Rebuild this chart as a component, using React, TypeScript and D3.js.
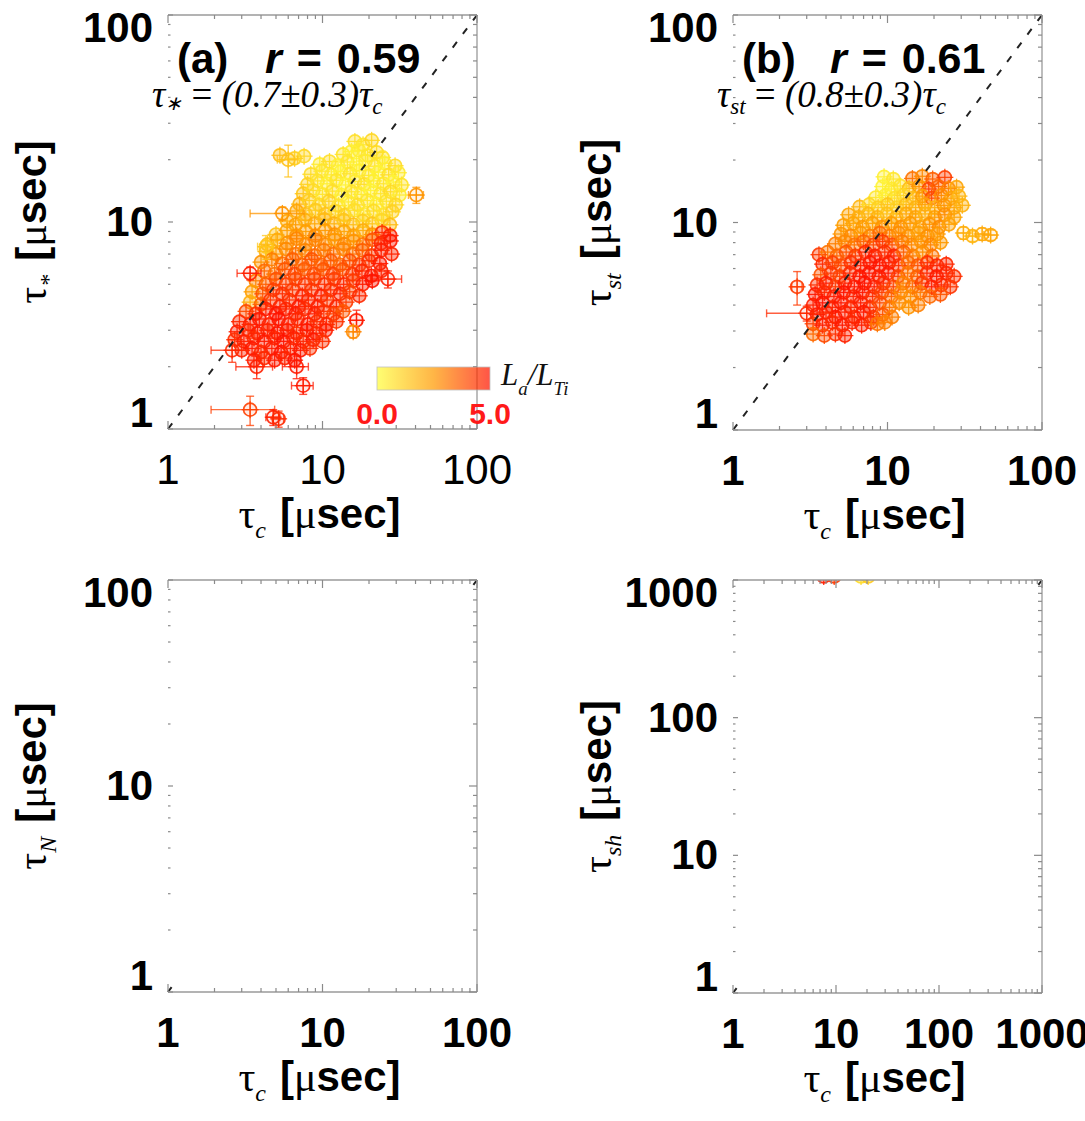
import React from 'react';
import * as d3 from 'd3';

const W = 1085;
const H = 1121;
const SANS = '"Liberation Sans", Arial, Helvetica, sans-serif';
const SERIF = '"Liberation Serif", "Times New Roman", serif';

// ---------- tick values / labels ----------
const ticks2 = [1, 10, 100];
const ticks3 = [1, 10, 100, 1000];

// ---------- colour bar ----------
const colorDomain = [0, 2.5, 5];
const colorRange = ['#ffff3c', '#ff9a00', '#ff1400'];
const colorbarLabels = ['0.0', '5.0'];

// ---------- annotations ----------
const panelLetters = ['(a)', '(b)'];
const rValues = ['0.59', '0.61'];
const fitCoeffs = ['(0.7±0.3)', '(0.8±0.3)'];
const fitSubs = ['∗', 'st'];
const yTitleSubs = ['*', 'st', 'N', 'sh'];

// ---------- panel (a): [tau_c, tau_*, La/LTi] ----------
const panelA: number[][] = [
  [16.2, 24.5, 0.8], [18.3, 23.6, 0.6], [20.8, 24.8, 1.0], [17.2, 22.2, 0.5],
  [13.6, 21.2, 0.7], [15.4, 21.9, 0.4], [19.6, 21.0, 0.6], [22.4, 21.7, 0.9], [24.5, 20.5, 0.7],
  [5.3, 21.0, 1.6], [6.6, 20.3, 1.2], [7.6, 20.8, 1.0],
  [9.6, 19.0, 0.5], [11.1, 19.6, 0.8], [12.6, 18.8, 0.4], [14.5, 19.5, 0.6], [16.6, 18.9, 0.3], [19.0, 19.7, 0.5], [21.8, 18.6, 0.7], [25.3, 19.2, 0.4], [29.5, 18.7, 0.9],
  [8.4, 17.0, 0.9], [9.9, 17.6, 0.6], [11.4, 16.9, 0.5], [13.1, 17.5, 0.3], [15.1, 17.1, 0.7], [17.3, 17.7, 0.4], [19.9, 16.8, 0.6], [23.0, 17.4, 0.3], [26.8, 16.9, 0.8], [31.0, 17.3, 0.5],
  [8.0, 15.2, 1.1], [9.3, 15.8, 0.7], [10.7, 15.3, 0.4], [12.3, 15.9, 0.6], [14.1, 15.1, 0.3], [16.2, 15.7, 0.5], [18.6, 15.2, 0.8], [21.4, 15.8, 0.4], [24.8, 15.3, 0.6], [28.7, 15.6, 0.3], [32.5, 15.1, 0.7],
  [7.5, 13.7, 1.4], [8.7, 14.2, 0.9], [10.0, 13.6, 0.6], [11.6, 14.1, 0.8], [13.3, 13.5, 0.4], [15.4, 14.0, 0.7], [17.8, 13.6, 0.5], [20.5, 14.2, 0.3], [23.8, 13.7, 0.6], [27.6, 14.0, 0.9], [31.5, 13.5, 0.5],
  [7.1, 12.2, 1.8], [8.2, 12.7, 1.2], [9.5, 12.1, 0.9], [11.0, 12.6, 1.1], [12.7, 12.0, 0.7], [14.7, 12.5, 0.5], [16.9, 12.1, 0.8], [19.5, 12.7, 0.6], [22.4, 12.2, 0.4], [25.9, 12.6, 0.7], [29.8, 12.1, 1.0],
  [6.8, 11.3, 2.2], [7.8, 10.9, 1.6], [9.0, 11.4, 1.3], [10.4, 10.9, 1.5], [12.1, 11.3, 1.0], [13.9, 10.8, 1.2], [16.1, 11.4, 0.8], [18.5, 10.9, 0.6], [21.4, 11.3, 0.9], [24.8, 10.8, 0.7], [28.3, 11.2, 1.1],
  [5.9, 10.1, 2.0], [6.7, 9.7, 2.4], [7.7, 10.2, 1.9], [8.9, 9.8, 2.1], [10.3, 10.3, 1.7], [11.9, 9.8, 1.9], [13.7, 10.2, 1.4], [15.8, 9.7, 1.6], [18.2, 10.1, 1.2], [21.0, 9.8, 1.4], [24.2, 10.2, 1.0], [27.3, 9.7, 1.6],
  [5.0, 8.7, 1.5], [5.9, 9.1, 2.3], [6.8, 8.6, 2.6], [7.8, 9.0, 2.4], [9.0, 8.6, 2.8], [10.4, 9.1, 2.5], [12.0, 8.7, 2.7], [13.8, 9.0, 2.2], [15.9, 8.6, 2.4], [18.3, 9.1, 2.0], [21.0, 8.7, 2.6], [24.3, 8.9, 4.5], [27.4, 8.6, 4.8],
  [4.4, 7.8, 1.6], [5.1, 8.2, 2.1], [5.9, 7.9, 2.6], [6.8, 8.3, 2.9], [7.8, 7.8, 2.7], [9.0, 8.2, 3.0], [10.4, 7.8, 2.8], [12.0, 8.2, 2.5], [13.8, 7.8, 2.9], [15.9, 8.1, 2.6], [18.3, 7.8, 3.1], [21.0, 8.2, 3.8], [23.9, 7.9, 4.6], [27.5, 8.1, 4.9],
  [4.3, 7.2, 1.8], [5.0, 7.0, 2.4], [5.8, 7.4, 2.8], [6.7, 7.0, 3.2], [7.7, 7.3, 2.9], [8.9, 6.9, 3.4], [10.2, 7.3, 3.1], [11.8, 7.0, 3.3], [13.6, 7.4, 2.9], [15.7, 7.0, 3.2], [18.1, 7.3, 3.6], [20.8, 6.9, 4.2], [24.0, 7.3, 4.8], [28.0, 7.0, 4.7],
  [4.0, 6.4, 2.6], [4.7, 6.6, 3.0], [5.5, 6.3, 3.3], [6.4, 6.6, 3.6], [7.4, 6.2, 3.4], [8.5, 6.6, 3.8], [9.8, 6.2, 3.5], [11.3, 6.5, 3.7], [13.0, 6.2, 3.4], [15.0, 6.5, 3.9], [17.3, 6.2, 4.1], [20.0, 6.5, 4.5], [23.5, 6.3, 4.9],
  [4.2, 5.8, 3.4], [4.9, 5.6, 3.2], [5.7, 5.9, 3.8], [6.6, 5.6, 4.1], [7.6, 5.9, 3.7], [8.8, 5.6, 4.0], [10.1, 5.9, 3.8], [11.7, 5.6, 4.2], [13.5, 5.9, 3.9], [15.6, 5.6, 4.3], [18.0, 5.8, 4.6], [20.7, 5.5, 4.9], [24.0, 5.8, 4.7],
  [3.7, 5.2, 3.0], [4.3, 5.0, 3.6], [5.0, 5.3, 3.9], [5.8, 5.0, 4.2], [6.7, 5.3, 4.0], [7.7, 5.0, 4.4], [8.9, 5.3, 4.1], [10.3, 5.0, 4.5], [11.9, 5.3, 4.2], [13.7, 5.0, 4.6], [15.8, 5.2, 4.3], [18.2, 5.0, 4.8], [21.0, 5.2, 5.0],
  [3.5, 4.6, 2.4], [4.1, 4.5, 3.8], [4.8, 4.7, 4.2], [5.5, 4.5, 4.5], [6.4, 4.7, 4.3], [7.4, 4.4, 4.7], [8.5, 4.7, 4.4], [9.8, 4.4, 4.8], [11.3, 4.7, 4.5], [13.0, 4.5, 4.7], [15.0, 4.6, 4.2], [17.3, 4.4, 4.6],
  [3.4, 4.1, 2.0], [4.0, 4.0, 3.5], [4.6, 4.2, 4.4], [5.3, 3.9, 4.7], [6.1, 4.2, 4.5], [7.0, 3.9, 4.9], [8.1, 4.2, 4.6], [9.3, 3.9, 4.8], [10.7, 4.2, 4.4], [12.3, 3.9, 4.7], [14.2, 4.1, 4.3],
  [3.2, 3.7, 4.0], [3.7, 3.6, 4.5], [4.3, 3.8, 4.8], [5.0, 3.6, 5.0], [5.8, 3.8, 4.7], [6.7, 3.6, 4.9], [7.7, 3.8, 4.6], [8.9, 3.6, 4.8], [10.2, 3.7, 4.5], [11.8, 3.6, 4.2], [13.6, 3.7, 3.8],
  [2.9, 3.3, 4.6], [3.4, 3.2, 4.8], [3.9, 3.4, 4.9], [4.5, 3.2, 4.7], [5.2, 3.4, 5.0], [6.0, 3.2, 4.8], [6.9, 3.4, 4.6], [8.0, 3.2, 4.9], [9.2, 3.3, 4.5], [10.6, 3.2, 4.7], [12.3, 3.3, 4.4],
  [2.8, 2.95, 4.8], [3.3, 3.0, 4.6], [3.8, 2.9, 4.9], [4.4, 3.0, 4.7], [5.1, 2.9, 5.0], [5.9, 3.0, 4.8], [6.8, 2.9, 4.5], [7.9, 3.0, 4.9], [9.1, 2.9, 4.6], [10.5, 3.0, 4.8],
  [2.7, 2.7, 4.5], [3.1, 2.65, 4.8], [3.6, 2.75, 4.6], [4.2, 2.65, 4.9], [4.9, 2.75, 4.7], [5.6, 2.65, 5.0], [6.5, 2.75, 4.8], [7.5, 2.65, 4.6], [8.7, 2.7, 4.9], [10.0, 2.65, 4.5],
  [3.0, 2.4, 4.7], [3.5, 2.45, 4.9], [4.0, 2.35, 4.6], [4.7, 2.45, 4.8], [5.4, 2.35, 5.0], [6.2, 2.45, 4.7], [7.2, 2.4, 4.9], [8.3, 2.45, 4.5],
  [3.6, 2.15, 4.8], [4.2, 2.2, 4.6], [4.9, 2.15, 4.9], [5.7, 2.2, 4.7], [6.6, 2.15, 5.0],
];

// panel (a) points with visible error bars: [tau_c, tau_*, La/LTi, d tau_c, d tau_*]
const panelAErr: number[][] = [
  [6.0, 20.0, 1.5, 0.9, 3.5],
  [5.5, 11.0, 2.6, 2.1, 0.8],
  [4.3, 7.6, 1.4, 0.5, 1.0],
  [3.4, 5.65, 4.8, 0.6, 0.4],
  [40.5, 13.5, 2.6, 4.5, 1.2],
  [26.5, 5.3, 4.8, 6.0, 0.5],
  [16.6, 3.35, 4.9, 1.5, 0.4],
  [15.8, 2.95, 2.8, 1.0, 0.2],
  [2.6, 2.4, 4.6, 0.7, 0.3],
  [3.75, 2.0, 4.8, 1.0, 0.25],
  [6.8, 2.0, 4.9, 1.3, 0.25],
  [7.5, 1.62, 4.9, 1.2, 0.15],
  [3.4, 1.24, 4.2, 1.5, 0.2],
  [4.8, 1.14, 4.8, 0.5, 0.1],
  [5.2, 1.12, 4.6, 0.4, 0.1],
];

// ---------- panel (b): [tau_c, tau_st, La/LTi] ----------
const panelB: number[][] = [
  [9.5, 16.6, 0.4], [10.9, 16.2, 0.6], [14.5, 16.3, 3.2], [16.8, 16.7, 2.8], [19.6, 16.2, 3.6], [23.5, 16.5, 4.2],
  [9.3, 14.9, 0.3], [10.6, 14.5, 0.5], [12.1, 15.0, 0.7], [13.8, 14.6, 1.6], [16.0, 14.9, 2.6], [18.5, 14.5, 4.2], [21.4, 14.9, 3.5], [24.8, 14.6, 3.0], [28.0, 14.8, 2.2],
  [8.4, 13.2, 0.6], [9.7, 13.5, 0.4], [11.1, 13.1, 0.8], [12.7, 13.5, 1.0], [14.6, 13.1, 1.7], [16.8, 13.4, 2.4], [19.3, 13.1, 4.0], [22.3, 13.5, 2.8], [25.8, 13.1, 2.3], [29.0, 13.4, 1.8],
  [6.6, 11.9, 1.8], [7.6, 12.2, 1.0], [8.7, 11.8, 1.2], [10.0, 12.2, 1.4], [11.5, 11.8, 1.1], [13.2, 12.2, 1.6], [15.2, 11.8, 1.9], [17.5, 12.2, 2.3], [20.2, 11.8, 2.0], [23.2, 12.1, 2.6], [27.0, 11.8, 2.2], [30.5, 12.1, 1.9],
  [5.6, 10.9, 2.2], [6.5, 10.6, 2.0], [7.5, 11.0, 1.7], [8.6, 10.6, 1.9], [9.9, 11.0, 1.5], [11.4, 10.6, 1.8], [13.2, 11.0, 2.1], [15.2, 10.6, 2.3], [17.5, 11.0, 1.9], [20.2, 10.6, 2.4], [23.5, 10.9, 2.7], [27.0, 10.6, 2.2],
  [5.2, 9.7, 2.4], [6.0, 9.9, 2.2], [6.9, 9.5, 2.5], [8.0, 9.9, 2.3], [9.2, 9.5, 2.6], [10.6, 9.9, 2.4], [12.2, 9.5, 2.7], [14.0, 9.9, 2.5], [16.2, 9.5, 2.3], [18.7, 9.8, 2.6], [21.6, 9.5, 2.8], [25.0, 9.8, 2.3],
  [5.0, 8.8, 2.6], [5.8, 8.6, 2.8], [6.7, 8.9, 2.5], [7.7, 8.6, 2.9], [8.9, 8.9, 3.4], [10.3, 8.6, 3.0], [11.8, 8.9, 2.7], [13.6, 8.6, 2.6], [15.8, 8.9, 2.4], [18.2, 8.6, 2.7], [21.0, 8.8, 2.5],
  [4.6, 7.9, 3.0], [5.3, 8.1, 2.8], [6.1, 7.8, 3.2], [7.0, 8.1, 3.5], [8.1, 7.8, 4.0], [9.3, 8.1, 4.3], [10.7, 7.8, 3.9], [12.4, 8.1, 3.1], [14.3, 7.8, 2.8], [16.5, 8.1, 2.6], [19.0, 7.8, 2.9], [22.0, 8.0, 2.5],
  [3.6, 7.0, 4.3], [4.1, 7.2, 3.2], [4.7, 6.9, 3.4], [5.4, 7.2, 3.8], [6.2, 6.9, 4.2], [7.2, 7.2, 4.6], [8.3, 6.9, 4.8], [9.6, 7.2, 4.5], [11.0, 6.9, 4.7], [12.7, 7.2, 3.6], [14.6, 6.9, 3.0], [16.9, 7.2, 2.7], [19.5, 6.9, 3.2],
  [3.8, 6.3, 4.6], [4.4, 6.4, 4.2], [5.0, 6.2, 4.0], [5.8, 6.4, 4.4], [6.7, 6.2, 4.7], [7.7, 6.4, 4.9], [8.9, 6.2, 5.0], [10.2, 6.4, 4.8], [11.8, 6.2, 4.5], [13.6, 6.4, 3.4], [15.7, 6.2, 3.8], [18.1, 6.4, 4.5], [20.9, 6.2, 4.7], [24.0, 6.3, 4.6],
  [3.7, 5.6, 3.8], [4.3, 5.7, 4.4], [4.9, 5.5, 4.1], [5.7, 5.7, 4.6], [6.6, 5.5, 4.9], [7.6, 5.7, 5.0], [8.8, 5.5, 4.8], [10.1, 5.7, 4.9], [11.7, 5.5, 4.2], [13.5, 5.7, 3.2], [15.6, 5.5, 3.6], [18.0, 5.7, 4.6], [20.8, 5.5, 4.9], [24.0, 5.7, 4.7], [27.0, 5.5, 4.5],
  [3.5, 5.0, 4.5], [4.0, 5.1, 4.8], [4.6, 4.9, 4.3], [5.3, 5.1, 4.7], [6.1, 4.9, 4.9], [7.1, 5.1, 5.0], [8.2, 4.9, 4.8], [9.4, 5.1, 4.6], [10.9, 4.9, 4.1], [12.6, 5.1, 3.0], [14.5, 4.9, 3.4], [16.7, 5.1, 4.2], [19.3, 4.9, 4.8], [22.3, 5.0, 4.6], [25.5, 4.9, 4.4],
  [3.4, 4.5, 4.9], [3.9, 4.6, 4.6], [4.5, 4.4, 4.8], [5.2, 4.6, 5.0], [6.0, 4.4, 4.7], [6.9, 4.6, 4.9], [8.0, 4.4, 4.5], [9.2, 4.6, 4.2], [10.6, 4.4, 3.5], [12.2, 4.6, 2.9], [14.1, 4.4, 2.7], [16.3, 4.6, 3.1], [18.8, 4.4, 3.4], [22.0, 4.5, 3.8],
  [3.3, 4.0, 4.8], [3.8, 4.1, 5.0], [4.4, 3.9, 4.7], [5.0, 4.1, 4.9], [5.8, 3.9, 4.6], [6.7, 4.1, 4.8], [7.7, 3.9, 4.5], [8.9, 4.1, 4.0], [10.3, 3.9, 3.2], [11.9, 4.1, 2.8], [13.7, 3.9, 2.6], [15.8, 4.0, 3.0],
  [3.5, 3.6, 4.9], [4.0, 3.7, 4.7], [4.6, 3.5, 5.0], [5.3, 3.7, 4.8], [6.1, 3.5, 4.6], [7.0, 3.7, 4.9], [8.1, 3.5, 4.4], [9.3, 3.6, 3.8], [10.7, 3.5, 3.0],
  [3.3, 3.25, 4.2], [3.8, 3.2, 4.8], [4.4, 3.3, 4.6], [5.1, 3.2, 4.9], [5.9, 3.3, 4.7], [6.8, 3.2, 4.8], [7.8, 3.3, 4.5], [8.6, 3.25, 3.2], [9.6, 3.3, 3.0],
  [3.3, 2.9, 3.4], [3.9, 2.85, 4.0], [4.6, 2.9, 4.5], [5.3, 2.85, 4.7],
];

const panelBErr: number[][] = [
  [3.0, 3.65, 4.6, 1.35, 0.3],
  [2.6, 4.9, 4.3, 0.2, 0.9],
  [31.0, 8.9, 2.0, 2.5, 0.6],
  [35.5, 8.6, 1.8, 3.0, 0.5],
  [41.0, 8.8, 2.1, 4.0, 0.6],
  [46.5, 8.7, 2.2, 4.5, 0.5],
];

// ---------- panel (d): points clipped at the top edge ----------
const panelDClipped: number[][] = [
  [7.6, 1060, 4.8], [9.6, 1060, 4.3], [17.5, 1060, 0.9], [20.5, 1060, 1.3],
];

const color = d3.scaleLinear<string>().domain(colorDomain).range(colorRange).clamp(true);

type Box = { l: number; r: number; t: number; b: number };

const R = 6.5;

function Marker({ cx, cy, c, open }: { cx: number; cy: number; c: string; open?: boolean }) {
  return (
    <g stroke={c} strokeOpacity={0.9}>
      <line x1={cx - R - 2} x2={cx + R + 2} y1={cy} y2={cy} strokeWidth={1.3} />
      <line x1={cx} x2={cx} y1={cy - R - 2} y2={cy + R + 2} strokeWidth={1.3} />
      <circle cx={cx} cy={cy} r={R} fill={c} fillOpacity={open ? 0.1 : 0.4} strokeWidth={1.7} />
    </g>
  );
}

function Panel(props: {
  idx: number;
  box: Box;
  maxV: number;
  ticks: number[];
  points: number[][];
  errs: number[][];
  xBold: boolean;
  diagFull: boolean;
}) {
  const { idx, box, maxV, ticks, points, errs, xBold, diagFull } = props;
  const x = d3.scaleLog().domain([1, maxV]).range([box.l, box.r]);
  const y = d3.scaleLog().domain([1, maxV]).range([box.b, box.t]);
  const all = x.ticks();
  const isMajor = (v: number) => Math.abs(Math.log10(v) - Math.round(Math.log10(v))) < 1e-9;
  const clipId = `clip${idx}`;
  const tickCol = '#8a8a8a';

  const dx1 = x(1), dy1 = y(1), dx2 = x(maxV), dy2 = y(maxV);
  const dLen = Math.hypot(dx2 - dx1, dy2 - dy1);
  const dash = diagFull ? '7 10' : `6 ${dLen - 12} 6`;
  const cxMid = (box.l + box.r) / 2;
  const cyMid = (box.t + box.b) / 2;

  return (
    <g>
      <defs>
        <clipPath id={clipId}>
          <rect x={box.l} y={box.t} width={box.r - box.l} height={box.b - box.t} />
        </clipPath>
      </defs>

      {/* data */}
      <g clipPath={`url(#${clipId})`}>
        {points.map((p, i) => (
          <Marker key={i} cx={x(p[0])} cy={y(p[1])} c={color(p[2])} />
        ))}
        {errs.map((p, i) => {
          const c = color(p[2]);
          const cx = x(p[0]);
          const cy = y(p[1]);
          const xa = x(Math.max(p[0] - p[3], 0.05));
          const xb = x(p[0] + p[3]);
          const ya = y(Math.max(p[1] - p[4], 0.05));
          const yb = y(p[1] + p[4]);
          return (
            <g key={`e${i}`} stroke={c} strokeOpacity={0.75} strokeWidth={1.4}>
              <line x1={xa} x2={xb} y1={cy} y2={cy} />
              <line x1={xa} x2={xa} y1={cy - 4} y2={cy + 4} />
              <line x1={xb} x2={xb} y1={cy - 4} y2={cy + 4} />
              <line x1={cx} x2={cx} y1={ya} y2={yb} />
              <line x1={cx - 4} x2={cx + 4} y1={ya} y2={ya} />
              <line x1={cx - 4} x2={cx + 4} y1={yb} y2={yb} />
              <Marker cx={cx} cy={cy} c={c} open />
            </g>
          );
        })}
      </g>

      {/* diagonal */}
      <line x1={dx1} y1={dy1} x2={dx2} y2={dy2} stroke="#222" strokeWidth={2} strokeDasharray={dash} />

      {/* frame (no left line) */}
      <g stroke="#9a9a9a" strokeWidth={1.3} fill="none">
        <line x1={box.l} x2={box.r} y1={box.t} y2={box.t} />
        <line x1={box.l} x2={box.r} y1={box.b} y2={box.b} />
        <line x1={box.r} x2={box.r} y1={box.t} y2={box.b} />
      </g>

      {/* ticks */}
      <g stroke={tickCol} strokeWidth={1.2}>
        {all.map((v, i) => {
          const m = isMajor(v);
          const L = m ? 8 : 4;
          const LL = m ? 5 : 2.5;
          const px = x(v);
          const py = y(v);
          return (
            <g key={i}>
              <line x1={px} x2={px} y1={box.b} y2={box.b - L} />
              <line x1={px} x2={px} y1={box.t} y2={box.t + L} />
              <line x1={box.r} x2={box.r - L} y1={py} y2={py} />
              <line x1={box.l} x2={box.l + LL} y1={py} y2={py} />
            </g>
          );
        })}
      </g>

      {/* tick labels */}
      <g fontFamily={SANS} fontSize={42} fill="#000">
        {ticks.map((v) => (
          <text key={`x${v}`} x={x(v)} y={box.b + 55} textAnchor="middle" fontWeight={xBold ? 'bold' : 'normal'}>
            {String(v)}
          </text>
        ))}
        {ticks.map((v) => {
          const c = Math.min(Math.max(y(v), box.t + 13), box.b - 16);
          return (
            <text key={`y${v}`} x={box.l - 15} y={c + 14} textAnchor="end" fontWeight="bold">
              {String(v)}
            </text>
          );
        })}
      </g>

      {/* x title */}
      <text x={cxMid - 3} y={box.b + 99} textAnchor="middle" fontSize={42}>
        <tspan fontFamily={SERIF}>τ</tspan>
        <tspan fontFamily={SERIF} fontStyle="italic" fontSize={24} dy={10}>c</tspan>
        <tspan fontFamily={SANS} fontWeight="bold" dy={-10} dx={14}>[</tspan>
        <tspan fontFamily={SERIF}>μ</tspan>
        <tspan fontFamily={SANS} fontWeight="bold">sec]</tspan>
      </text>

      {/* y title */}
      <text transform={`translate(${box.l - 122},${cyMid}) rotate(-90)`} textAnchor="middle" fontSize={42}>
        <tspan fontFamily={SERIF}>τ</tspan>
        <tspan fontFamily={SERIF} fontStyle="italic" fontSize={24} dy={10}>{yTitleSubs[idx]}</tspan>
        <tspan fontFamily={SANS} fontWeight="bold" dy={-10} dx={14}>[</tspan>
        <tspan fontFamily={SERIF}>μ</tspan>
        <tspan fontFamily={SANS} fontWeight="bold">sec]</tspan>
      </text>

      {/* annotations for top panels */}
      {idx < 2 && (
        <g>
          <text x={box.l + 9} y={73} fontFamily={SANS} fontWeight="bold" fontSize={42}>
            {panelLetters[idx]}
          </text>
          <text x={box.l + 97} y={73} fontFamily={SANS} fontWeight="bold" fontSize={43} wordSpacing={3}>
            <tspan fontStyle="italic">r</tspan>
            <tspan> = {rValues[idx]}</tspan>
          </text>
          <text x={box.l - 16} y={107} fontFamily={SERIF} fontSize={37} fontStyle="italic">
            <tspan>τ</tspan>
            <tspan fontSize={idx === 0 ? 20 : 23} dy={idx === 0 ? 3 : 7}>{fitSubs[idx]}</tspan>
            <tspan dy={idx === 0 ? -3 : -7} fontStyle="normal"> = </tspan>
            <tspan>{fitCoeffs[idx]}τ</tspan>
            <tspan fontSize={23} dy={7}>c</tspan>
          </text>
        </g>
      )}
    </g>
  );
}

function Colorbar() {
  const x0 = 377, x1 = 490, y0 = 367, h = 23;
  const cb = d3.scaleLinear().domain([colorDomain[0], colorDomain[2]]).range([x0, x1]);
  return (
    <g>
      <defs>
        <linearGradient id="cbGrad" x1="0" x2="1" y1="0" y2="0">
          {colorDomain.map((v, i) => (
            <stop key={i} offset={(v - colorDomain[0]) / (colorDomain[2] - colorDomain[0])} stopColor={colorRange[i]} />
          ))}
        </linearGradient>
      </defs>
      <rect x={x0} y={y0} width={x1 - x0} height={h} fill="url(#cbGrad)" opacity={0.72} stroke="#aaa" strokeWidth={0.8} />
      {colorbarLabels.map((t, i) => (
        <text key={t} x={cb(i === 0 ? colorDomain[0] : colorDomain[2])} y={424} textAnchor="middle" fontFamily={SANS} fontWeight="bold" fontSize={30} fill="#ff1a1a">
          {t}
        </text>
      ))}
      <text x={501} y={385} fontFamily={SERIF} fontStyle="italic" fontSize={31} fill="#111">
        <tspan>L</tspan>
        <tspan fontSize={19} dy={10}>a</tspan>
        <tspan dy={-10}>/L</tspan>
        <tspan fontSize={19} dy={10}>Ti</tspan>
      </text>
    </g>
  );
}

export default function App() {
  const boxA: Box = { l: 168, r: 477, t: 15, b: 429 };
  const boxB: Box = { l: 733, r: 1042, t: 15, b: 430 };
  const boxC: Box = { l: 168, r: 477, t: 580, b: 992 };
  const boxD: Box = { l: 733, r: 1042, t: 580, b: 993 };
  return (
    <div style={{ position: 'absolute', left: 0, top: 0 }}>
      <svg width={W} height={H} viewBox={`0 0 ${W} ${H}`} style={{ display: 'block', background: '#fff' }}>
        <rect x={0} y={0} width={W} height={H} fill="#fff" />
        <Panel idx={0} box={boxA} maxV={100} ticks={ticks2} points={panelA} errs={panelAErr} xBold={false} diagFull />
        <Colorbar />
        <Panel idx={1} box={boxB} maxV={100} ticks={ticks2} points={panelB} errs={panelBErr} xBold diagFull />
        <Panel idx={2} box={boxC} maxV={100} ticks={ticks2} points={[]} errs={[]} xBold diagFull={false} />
        <Panel idx={3} box={boxD} maxV={1000} ticks={ticks3} points={panelDClipped} errs={[]} xBold diagFull={false} />
      </svg>
    </div>
  );
}
